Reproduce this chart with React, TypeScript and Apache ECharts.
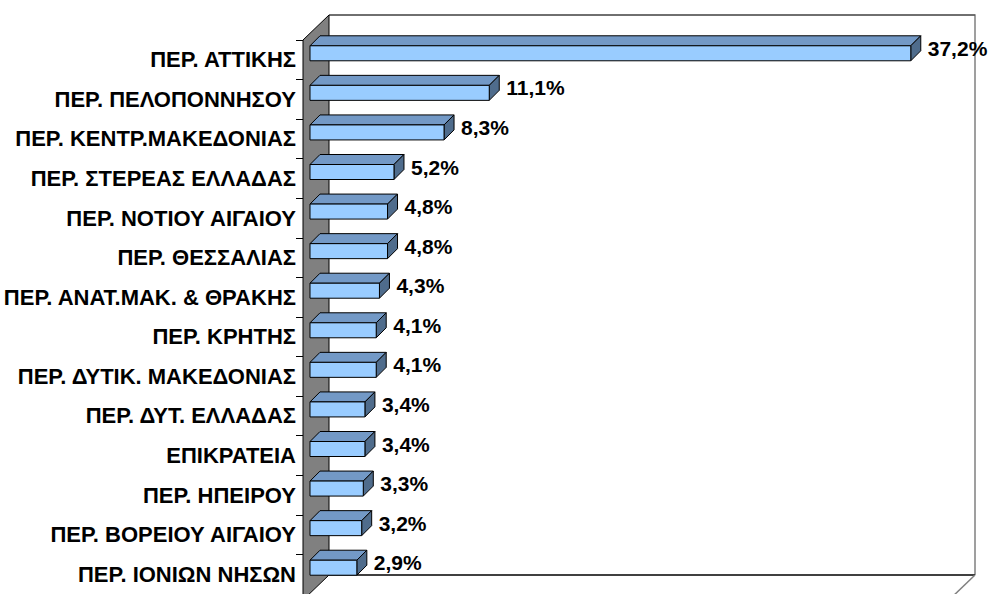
import React, { useEffect, useRef } from "react";
import * as echarts from "echarts";

const categories = [
  "ΠΕΡ. ΑΤΤΙΚΗΣ",
  "ΠΕΡ. ΠΕΛΟΠΟΝΝΗΣΟΥ",
  "ΠΕΡ. ΚΕΝΤΡ.ΜΑΚΕΔΟΝΙΑΣ",
  "ΠΕΡ. ΣΤΕΡΕΑΣ ΕΛΛΑΔΑΣ",
  "ΠΕΡ. ΝΟΤΙΟΥ ΑΙΓΑΙΟΥ",
  "ΠΕΡ. ΘΕΣΣΑΛΙΑΣ",
  "ΠΕΡ. ΑΝΑΤ.ΜΑΚ. & ΘΡΑΚΗΣ",
  "ΠΕΡ. ΚΡΗΤΗΣ",
  "ΠΕΡ. ΔΥΤΙΚ. ΜΑΚΕΔΟΝΙΑΣ",
  "ΠΕΡ. ΔΥΤ. ΕΛΛΑΔΑΣ",
  "ΕΠΙΚΡΑΤΕΙΑ",
  "ΠΕΡ. ΗΠΕΙΡΟΥ",
  "ΠΕΡ. ΒΟΡΕΙΟΥ ΑΙΓΑΙΟΥ",
  "ΠΕΡ. ΙΟΝΙΩΝ ΝΗΣΩΝ",
];

const values = [37.2, 11.1, 8.3, 5.2, 4.8, 4.8, 4.3, 4.1, 4.1, 3.4, 3.4, 3.3, 3.2, 2.9];

const AXIS_MAX = 40;

// layout
const GRID_LEFT = 303;
const GRID_TOP = 40;
const GRID_W = 646;
const GRID_H = 560;
const WALL_DX = 26;
const WALL_DY = 25;
const BAR_OFF = 7;
const BAR_H = 15;
const BAR_D = 10;

const FONT = '"Liberation Sans", Arial, sans-serif';

export default function App() {
  const ref = useRef<HTMLDivElement>(null);

  useEffect(() => {
    if (!ref.current) return;
    const chart = echarts.init(ref.current, null, { renderer: "svg" });

    const bx0 = GRID_LEFT + WALL_DX;
    const by0 = GRID_TOP - WALL_DY;
    const bx1 = GRID_LEFT + GRID_W + WALL_DX;
    const by1 = GRID_TOP + GRID_H - WALL_DY;

    const option: any = {
      animation: false,
      backgroundColor: "#ffffff",
      grid: { left: GRID_LEFT, top: GRID_TOP, width: GRID_W, height: GRID_H, containLabel: false },
      xAxis: {
        type: "value",
        min: 0,
        max: AXIS_MAX,
        show: false,
        splitLine: { show: false },
      },
      yAxis: {
        type: "category",
        inverse: true,
        data: categories,
        axisLine: { show: false },
        axisTick: { show: true, length: 7, lineStyle: { color: "#000000", width: 1 } },
        axisLabel: {
          color: "#000000",
          fontFamily: FONT,
          fontWeight: "bold",
          fontSize: 22,
          margin: 7,
        },
      },
      graphic: [
        {
          type: "polyline",
          z: 0,
          silent: true,
          shape: { points: [[bx0, by0], [bx1, by0], [bx1, by1]] },
          style: { stroke: "#808080", lineWidth: 1.5, fill: "none" },
        },
        {
          type: "line",
          z: 0,
          silent: true,
          shape: { x1: bx0, y1: by0, x2: bx1, y2: by0 },
          style: { stroke: "#404040", lineWidth: 1 },
        },
        {
          type: "line",
          z: 0,
          silent: true,
          shape: { x1: bx0, y1: by1, x2: bx1, y2: by1 },
          style: { stroke: "#000000", lineWidth: 1.5 },
        },
        {
          type: "line",
          z: 0,
          silent: true,
          shape: { x1: bx1, y1: by1, x2: GRID_LEFT + GRID_W, y2: GRID_TOP + GRID_H },
          style: { stroke: "#808080", lineWidth: 1.5 },
        },
        {
          type: "polygon",
          z: 1,
          silent: true,
          shape: {
            points: [
              [GRID_LEFT, GRID_TOP],
              [bx0, by0],
              [bx0, by1],
              [GRID_LEFT, GRID_TOP + GRID_H],
            ],
          },
          style: { fill: "#808080", stroke: "#000000", lineWidth: 1 },
        },
      ],
      series: [
        {
          type: "custom",
          z: 3,
          data: values.map((v, i) => [v, i]),
          encode: { x: 0, y: 1 },
          renderItem: (params: any, api: any) => {
            const v = api.value(0);
            const idx = api.value(1);
            const p0 = api.coord([0, idx]);
            const p1 = api.coord([v, idx]);
            const x0 = p0[0] + BAR_OFF;
            const x1 = p1[0] + BAR_OFF;
            const yc = p0[1] - BAR_OFF + 0.5;
            const yt = yc - BAR_H / 2;
            const yb = yc + BAR_H / 2;
            const stroke = { stroke: "#000000", lineWidth: 1, lineJoin: "round" };
            return {
              type: "group",
              children: [
                {
                  type: "polygon",
                  shape: { points: [[x0, yt], [x1, yt], [x1 + BAR_D, yt - BAR_D], [x0 + BAR_D, yt - BAR_D]] },
                  style: { fill: "#7399C6", ...stroke },
                },
                {
                  type: "polygon",
                  shape: { points: [[x1, yt], [x1 + BAR_D, yt - BAR_D], [x1 + BAR_D, yb - BAR_D], [x1, yb]] },
                  style: { fill: "#4F6C8C", ...stroke },
                },
                {
                  type: "rect",
                  shape: { x: x0, y: yt, width: x1 - x0, height: BAR_H },
                  style: { fill: "#99CCFF", ...stroke },
                },
                {
                  type: "text",
                  style: {
                    x: x1 + BAR_D + 7,
                    y: yc - 5,
                    text: v.toFixed(1).replace(".", ",") + "%",
                    fill: "#000000",
                    font: `bold 21px ${FONT}`,
                    align: "left",
                    verticalAlign: "middle",
                  },
                },
              ],
            };
          },
        },
      ],
    };

    chart.setOption(option);
    return () => chart.dispose();
  }, []);

  return (
    <div
      ref={ref}
      style={{ position: "absolute", left: 0, top: 0, width: 990, height: 594 }}
    />
  );
}
